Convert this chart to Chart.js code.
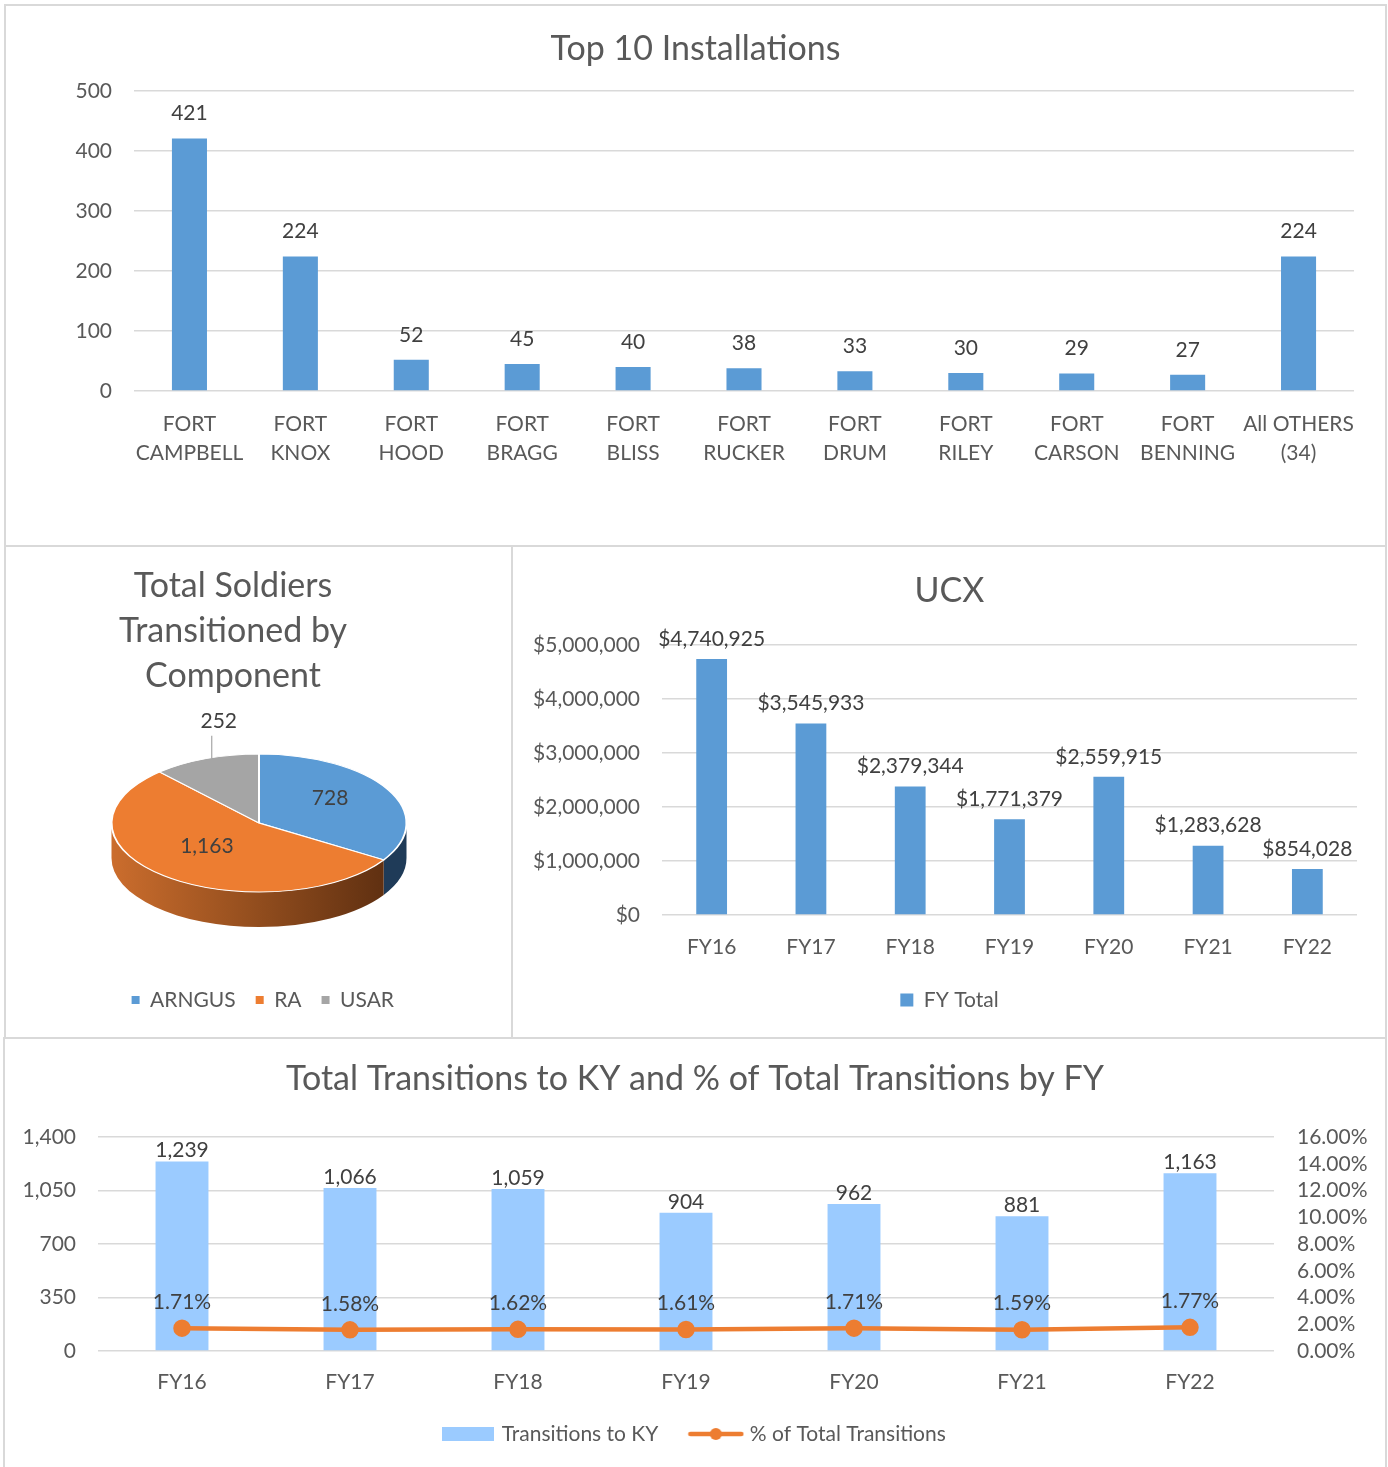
<!DOCTYPE html>
<html><head><meta charset="utf-8">
<script src="https://cdn.jsdelivr.net/npm/chart.js@4.4.1/dist/chart.umd.min.js"></script>
<style>
html,body{margin:0;padding:0;background:#fff;}
body{width:1388px;height:1467px;position:relative;overflow:hidden;font-family:Lato,sans-serif;}
.panel{position:absolute;border:2px solid #d9d9d9;box-sizing:border-box;}
canvas{position:absolute;}
</style></head><body>
<div class="panel" style="left:4px;top:4px;width:1383px;height:543px"></div>
<div class="panel" style="left:4px;top:545px;width:509px;height:494px"></div>
<div class="panel" style="left:511px;top:545px;width:876px;height:494px"></div>
<div class="panel" style="left:3px;top:1037px;width:1384px;height:440px"></div>
<canvas id="c1" width="1379" height="539" style="left:6px;top:6px"></canvas>
<canvas id="c2" width="505" height="490" style="left:6px;top:547px"></canvas>
<canvas id="c3" width="871" height="489" style="left:514px;top:547px"></canvas>
<canvas id="c4" width="1380" height="428" style="left:5px;top:1039px"></canvas>
<script>
// ---------------- DATA ----------------
const installationLabels = [["FORT","CAMPBELL"],["FORT","KNOX"],["FORT","HOOD"],["FORT","BRAGG"],["FORT","BLISS"],["FORT","RUCKER"],["FORT","DRUM"],["FORT","RILEY"],["FORT","CARSON"],["FORT","BENNING"],["All OTHERS","(34)"]];
const installationCounts = [421,224,52,45,40,38,33,30,29,27,224];
const installationTicks = [0,100,200,300,400,500];

const componentLabels = ["ARNGUS","RA","USAR"];
const componentCounts = [728,1163,252];

const ucxYears = ["FY16","FY17","FY18","FY19","FY20","FY21","FY22"];
const ucxTotals = [4740925,3545933,2379344,1771379,2559915,1283628,854028];
const ucxTicks = [0,1000000,2000000,3000000,4000000,5000000];

const fyLabels = ["FY16","FY17","FY18","FY19","FY20","FY21","FY22"];
const transitionsToKY = [1239,1066,1059,904,962,881,1163];
const pctOfTotal = [1.71,1.58,1.62,1.61,1.71,1.59,1.77];
const transitionTicks = [0,350,700,1050,1400];
const pctTicks = [0,2,4,6,8,10,12,14,16];

// ---------------- STYLE ----------------
const FONT = 'Lato';
const TXT = '#595959';
const LBL = '#404040';
const GRID = '#d9d9d9';
const BLUE = '#5b9bd5', ORANGE = '#ed7d31', GRAY = '#a5a5a5', LIGHTBLUE = '#9bcbff';

const comma = v => Number(v).toLocaleString('en-US');
const dollar = v => '$' + Number(v).toLocaleString('en-US');
const pct = v => Number(v).toFixed(2) + '%';

function tickSetter(arr){ return s => { s.ticks = arr.map(v => ({value: v})); }; }

function valueLabelPlugin(specs){
  return { id:'valueLabels', afterDatasetsDraw(chart){
    const ctx = chart.ctx;
    specs.forEach(sp => {
      const meta = chart.getDatasetMeta(sp.dataset);
      const vals = chart.data.datasets[sp.dataset].data;
      ctx.save();
      ctx.font = sp.font; ctx.fillStyle = sp.color; ctx.textAlign = 'center'; ctx.textBaseline = 'middle';
      meta.data.forEach((el, i) => ctx.fillText(sp.format(vals[i]), el.x, el.y - sp.offset));
      ctx.restore();
    });
  }};
}

function start(){
  Chart.defaults.font.family = FONT;
  Chart.defaults.color = TXT;
  Chart.defaults.animation = false;
  Chart.defaults.plugins.tooltip.enabled = false;

  // ---------- Chart 1: Top 10 Installations ----------
  new Chart(document.getElementById('c1'), {
    type: 'bar',
    data: { labels: installationLabels, datasets: [{ label: 'Count', data: installationCounts, backgroundColor: BLUE, barPercentage: 0.316, categoryPercentage: 1 }] },
    options: {
      responsive: false,
      layout: { padding: { left: 31, right: 31, top: 0, bottom: 77.5 } },
      plugins: {
        legend: { display: false },
        title: { display: true, text: 'Top 10 Installations', color: TXT, font: { size: 34, weight: 'normal', lineHeight: 1.2 }, padding: { top: 22.6, bottom: 21.6 } }
      },
      scales: {
        x: { grid: { display: false, drawTicks: false }, border: { display: false },
             ticks: { color: TXT, font: { size: 21, lineHeight: 1.381 }, padding: 18.5, maxRotation: 0, autoSkip: false },
             afterFit: s => { s.height = 76.5; } },
        y: { min: 0, max: 500, afterBuildTicks: tickSetter(installationTicks),
             grid: { color: GRID, lineWidth: 1.5, drawTicks: false }, border: { display: false },
             ticks: { color: TXT, font: { size: 21 }, padding: 22, autoSkip: false },
             afterFit: s => { s.width = 97; } }
      }
    },
    plugins: [valueLabelPlugin([{ dataset: 0, offset: 25, font: '21px ' + FONT, color: LBL, format: v => String(v) }])]
  });

  // ---------- Chart 2: 3D-look pie ----------
  const CX = 253, CY = 276, K = 0.468, DEPTH = 35;
  const pie3d = {
    id: 'pie3d',
    beforeDatasetsDraw(chart){
      const ctx = chart.ctx;
      const arcs = chart.getDatasetMeta(0).data;
      const R = arcs[0].outerRadius, ry = R * K;
      const grad = ctx.createLinearGradient(CX - R, 0, CX + R, 0);
      grad.addColorStop(0, '#cb6d2d'); grad.addColorStop(0.45, '#97501f'); grad.addColorStop(1, '#572b0f');
      const sides = ['#1f3b58', grad, '#6b6b6b'];
      arcs.forEach((a, i) => {
        const lo = Math.max(a.startAngle, 0), hi = Math.min(a.endAngle, Math.PI);
        if (hi <= lo) return;
        ctx.save();
        ctx.beginPath();
        ctx.ellipse(CX, CY, R, ry, 0, lo, hi, false);
        ctx.ellipse(CX, CY + DEPTH, R, ry, 0, hi, lo, true);
        ctx.closePath();
        ctx.fillStyle = sides[i];
        ctx.fill();
        ctx.restore();
      });
      ctx.save();
      ctx.translate(CX, CY); ctx.scale(1, K); ctx.translate(-arcs[0].x, -arcs[0].y);
    },
    afterDatasetsDraw(chart){
      const ctx = chart.ctx;
      ctx.restore();
      const arcs = chart.getDatasetMeta(0).data;
      const vals = chart.data.datasets[0].data;
      const total = vals.reduce((a, b) => a + b, 0);
      const R = arcs[0].outerRadius;
      ctx.save();
      ctx.font = '21px ' + FONT; ctx.fillStyle = LBL; ctx.textAlign = 'center'; ctx.textBaseline = 'middle';
      arcs.forEach((a, i) => {
        const mid = (a.startAngle + a.endAngle) / 2;
        if (vals[i] / total > 0.15) {
          const r = 0.55 * R;
          ctx.fillText(comma(vals[i]), CX + r * Math.cos(mid), CY + K * r * Math.sin(mid) - 6);
        } else {
          const px = CX + R * Math.cos(mid) + 6, py = CY + K * R * Math.sin(mid);
          ctx.save(); ctx.strokeStyle = '#a6a6a6'; ctx.lineWidth = 1.2;
          ctx.beginPath(); ctx.moveTo(px, py); ctx.lineTo(px, py - 23); ctx.stroke(); ctx.restore();
          ctx.fillText(comma(vals[i]), px + 7, py - 37);
        }
      });
      ctx.restore();
    }
  };
  new Chart(document.getElementById('c2'), {
    type: 'pie',
    data: { labels: componentLabels, datasets: [{ data: componentCounts, backgroundColor: [BLUE, ORANGE, GRAY], borderColor: '#ffffff', borderWidth: 2, radius: 147.5, clip: false }] },
    options: {
      responsive: false,
      layout: { padding: { left: 46, right: 97, top: 0, bottom: 16.5 } },
      plugins: {
        title: { display: true, text: ['Total Soldiers', 'Transitioned by', 'Component'], color: TXT, font: { size: 34, weight: 'normal', lineHeight: 1.3235 }, padding: { top: 16.5, bottom: 10 } },
        legend: { position: 'bottom', align: 'end',
          labels: { boxWidth: 8, boxHeight: 8, padding: 20, color: TXT, font: { size: 21 },
            generateLabels: ch => Chart.overrides.pie.plugins.legend.labels.generateLabels(ch).map(l => Object.assign(l, { lineWidth: 0, strokeStyle: 'rgba(0,0,0,0)' })) } }
      }
    },
    plugins: [pie3d]
  });

  // ---------- Chart 3: UCX ----------
  new Chart(document.getElementById('c3'), {
    type: 'bar',
    data: { labels: ucxYears, datasets: [{ label: 'FY Total', data: ucxTotals, backgroundColor: BLUE, barPercentage: 0.31, categoryPercentage: 1 }] },
    options: {
      responsive: false,
      layout: { padding: { left: 0, right: 0, top: 0, bottom: 15.5 } },
      plugins: {
        title: { display: true, text: 'UCX', color: TXT, font: { size: 34, weight: 'normal', lineHeight: 1.2 }, padding: { top: 23.6, bottom: 33.6 } },
        legend: { position: 'bottom', labels: { boxWidth: 13, boxHeight: 13, padding: 10, color: TXT, font: { size: 21 } } }
      },
      scales: {
        x: { grid: { display: false, drawTicks: false }, border: { display: false },
             ticks: { color: TXT, font: { size: 21 }, padding: 19.4, maxRotation: 0 },
             afterFit: s => { s.height = 64.5; } },
        y: { min: 0, max: 5000000, afterBuildTicks: tickSetter(ucxTicks),
             grid: { color: GRID, lineWidth: 1.5, drawTicks: false }, border: { display: false },
             ticks: { color: TXT, font: { size: 21 }, padding: 22, autoSkip: false, callback: v => dollar(v) },
             afterFit: s => { s.width = 148; } },
        pad: { position: 'right', display: true, grid: { display: false, drawTicks: false }, border: { display: false },
             ticks: { display: false }, afterFit: s => { s.width = 28; } }
      }
    },
    plugins: [valueLabelPlugin([{ dataset: 0, offset: 20, font: '21px ' + FONT, color: LBL, format: dollar }])]
  });

  // ---------- Chart 4: Combo ----------
  const barImg = document.createElement('canvas'); barImg.width = 52; barImg.height = 14;
  (g => { g.fillStyle = LIGHTBLUE; g.fillRect(0, 0, 52, 14); })(barImg.getContext('2d'));
  const lineImg = document.createElement('canvas'); lineImg.width = 57; lineImg.height = 14;
  (g => { g.strokeStyle = ORANGE; g.lineWidth = 4.5; g.lineCap = 'round'; g.beginPath(); g.moveTo(3, 7); g.lineTo(54, 7); g.stroke();
          g.fillStyle = ORANGE; g.beginPath(); g.arc(28.5, 7, 6, 0, 2 * Math.PI); g.fill(); })(lineImg.getContext('2d'));

  new Chart(document.getElementById('c4'), {
    data: { labels: fyLabels, datasets: [
      { type: 'bar', label: 'Transitions to KY', data: transitionsToKY, backgroundColor: LIGHTBLUE, yAxisID: 'y', order: 1, barPercentage: 0.315, categoryPercentage: 1 },
      { type: 'line', label: '% of Total Transitions', data: pctOfTotal, borderColor: ORANGE, backgroundColor: ORANGE, borderWidth: 4.5, pointRadius: 6.5, pointBackgroundColor: ORANGE, pointBorderColor: ORANGE, yAxisID: 'y1', order: 0, tension: 0 }
    ] },
    options: {
      responsive: false,
      layout: { padding: { left: 0, right: 0, top: 0, bottom: 12.5 } },
      plugins: {
        title: { display: true, text: 'Total Transitions to KY and % of Total Transitions by FY', color: TXT, font: { size: 34, weight: 'normal', lineHeight: 1.2 }, padding: { top: 19.6, bottom: 37.6 } },
        legend: { position: 'bottom', labels: { usePointStyle: true, pointStyleWidth: 47, padding: 34, color: TXT, font: { size: 21 },
          generateLabels: ch => [
            { text: ch.data.datasets[0].label, pointStyle: barImg, fillStyle: LIGHTBLUE, strokeStyle: LIGHTBLUE, lineWidth: 0, hidden: false, datasetIndex: 0, fontColor: TXT },
            { text: ch.data.datasets[1].label, pointStyle: lineImg, fillStyle: ORANGE, strokeStyle: ORANGE, lineWidth: 0, hidden: false, datasetIndex: 1, fontColor: TXT }
          ] } }
      },
      scales: {
        x: { grid: { display: false, drawTicks: false }, border: { display: false },
             ticks: { color: TXT, font: { size: 21 }, padding: 18.4, maxRotation: 0 },
             afterFit: s => { s.height = 38.5; } },
        y: { position: 'left', min: 0, max: 1400, afterBuildTicks: tickSetter(transitionTicks),
             grid: { color: GRID, lineWidth: 1.5, drawTicks: false }, border: { display: false },
             ticks: { color: TXT, font: { size: 21 }, padding: 22, autoSkip: false, callback: v => comma(v) },
             afterFit: s => { s.width = 93; } },
        y1: { position: 'right', min: 0, max: 16, afterBuildTicks: tickSetter(pctTicks),
             grid: { display: false, drawTicks: false }, border: { display: false },
             ticks: { color: TXT, font: { size: 21 }, padding: 23, autoSkip: false, callback: v => pct(v) },
             afterFit: s => { s.width = 111; } }
      }
    },
    plugins: [valueLabelPlugin([
      { dataset: 0, offset: 11, font: '21px ' + FONT, color: LBL, format: comma },
      { dataset: 1, offset: 26, font: '21px ' + FONT, color: LBL, format: pct }
    ])]
  });
}

if (document.fonts && document.fonts.load) {
  document.fonts.load('21px ' + FONT).then(start, start);
} else { start(); }
</script>
</body></html>
